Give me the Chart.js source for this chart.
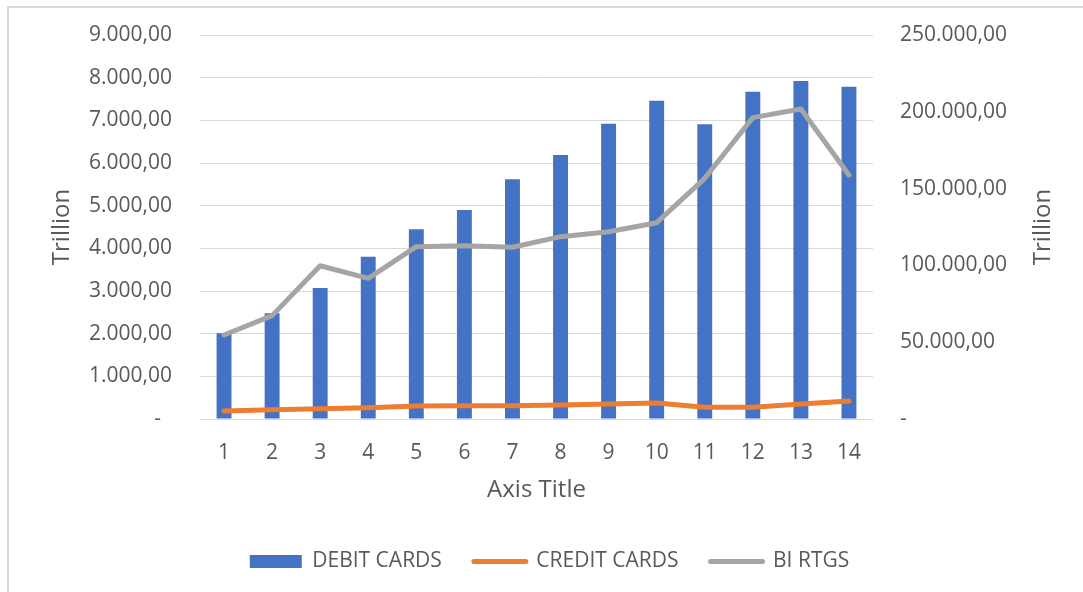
<!DOCTYPE html>
<html>
<head>
<meta charset="utf-8">
<script src="https://cdn.jsdelivr.net/npm/chart.js@4"></script>
<style>
  html, body { margin: 0; padding: 0; background: #fff; }
  #wrap { position: relative; width: 1083px; height: 592px; overflow: hidden; }
  #frame { position: absolute; left: 7px; top: 6px; right: -10px; bottom: -10px;
           border-left: 2px solid #d9d9d9; border-top: 2px solid #d9d9d9; }
  #c { position: absolute; left: 0; top: 0; }
</style>
</head>
<body>
<div id="wrap">
  <div id="frame"></div>
  <canvas id="c" width="1083" height="592"></canvas>
</div>
<script>
const categories = ['1', '2', '3', '4', '5', '6', '7', '8', '9', '10', '11', '12', '13', '14'];
const debitCards = [2010, 2480, 3070, 3800, 4450, 4900, 5620, 6190, 6920, 7460, 6910, 7670, 7920, 7790];
const creditCards = [187, 218, 241, 265, 305, 312, 312, 328, 352, 375, 274, 274, 352, 422];
const biRtgs = [54700, 67300, 99800, 91600, 112200, 112800, 111800, 118700, 121900, 127800, 156700, 196200, 201800, 158900];

const FONT = 'Open Sans';
const TXT = '#595959';

function fmt(v) {
  const s = Math.round(v).toString().replace(/\B(?=(\d{3})+(?!\d))/g, '.');
  return s + ',00';
}

// right axis title reads bottom-to-top like the left one
const rightTitle = {
  id: 'rightTitle',
  afterDraw(chart) {
    const ctx = chart.ctx;
    const area = chart.chartArea;
    ctx.save();
    ctx.translate(1043, (area.top + area.bottom) / 2);
    ctx.rotate(-Math.PI / 2);
    ctx.font = '24px "' + FONT + '"';
    ctx.fillStyle = TXT;
    ctx.textAlign = 'center';
    ctx.textBaseline = 'middle';
    ctx.fillText('Trillion', 0, 0);
    ctx.restore();
  }
};

const legendHeight = {
  id: 'legendHeight',
  beforeInit(chart) {
    const orig = chart.legend.fit;
    chart.legend.fit = function () {
      orig.call(this);
      this.height = 73;
    };
  }
};

// tick padding would otherwise push the plot top down
function fitVertical(width) {
  return function (scale) {
    scale.width = width;
    scale.paddingTop = 0;
    scale.paddingBottom = 0;
  };
}

new Chart(document.getElementById('c'), {
  type: 'bar',
  data: {
    labels: categories,
    datasets: [
      {
        label: 'DEBIT CARDS',
        data: debitCards,
        backgroundColor: '#4472C4',
        barPercentage: 0.31,
        categoryPercentage: 1,
        yAxisID: 'y',
        order: 3
      },
      {
        type: 'line',
        label: 'CREDIT CARDS',
        data: creditCards,
        borderColor: '#ED7D31',
        backgroundColor: '#ED7D31',
        borderWidth: 5,
        pointRadius: 0,
        borderJoinStyle: 'round',
        borderCapStyle: 'round',
        yAxisID: 'y',
        order: 2
      },
      {
        type: 'line',
        label: 'BI RTGS',
        data: biRtgs,
        borderColor: '#A5A5A5',
        backgroundColor: '#A5A5A5',
        borderWidth: 5,
        pointRadius: 0,
        borderJoinStyle: 'round',
        borderCapStyle: 'round',
        yAxisID: 'y1',
        order: 1
      }
    ]
  },
  options: {
    responsive: false,
    animation: false,
    layout: { padding: { left: 16, top: 35, right: 0, bottom: 0 } },
    plugins: {
      tooltip: { enabled: false },
      legend: {
        position: 'bottom',
        labels: {
          usePointStyle: true,
          pointStyleWidth: 52,
          boxHeight: 13,
          padding: 32,
          color: TXT,
          font: { family: FONT, size: 21 },
          generateLabels(chart) {
            return chart.data.datasets.map((ds, i) => ({
              text: ds.label,
              fillStyle: ds.backgroundColor,
              strokeStyle: ds.type === 'line' ? ds.borderColor : ds.backgroundColor,
              lineWidth: ds.type === 'line' ? 5 : 0,
              lineCap: 'round',
              pointStyle: ds.type === 'line' ? 'line' : 'rect',
              fontColor: TXT,
              hidden: false,
              datasetIndex: i
            }));
          }
        }
      }
    },
    scales: {
      x: {
        grid: { display: false },
        border: { display: false },
        ticks: { color: TXT, font: { family: FONT, size: 21 }, padding: 13, maxRotation: 0 },
        title: {
          display: true,
          text: 'Axis Title',
          color: TXT,
          font: { family: FONT, size: 24 },
          padding: { top: 0, bottom: 14 }
        },
        afterFit(scale) { scale.height = 100; }
      },
      y: {
        position: 'left',
        min: 0,
        max: 9000,
        ticks: {
          stepSize: 1000,
          padding: 28,
          color: TXT,
          font: { family: FONT, size: 21 },
          callback: v => v === 0 ? '-  ' : fmt(v)
        },
        grid: { color: '#d9d9d9', lineWidth: 1, drawTicks: false },
        border: { display: false },
        title: {
          display: true,
          text: 'Trillion',
          color: TXT,
          font: { family: FONT, size: 24 },
          padding: { top: 32, bottom: 0 }
        },
        afterFit: fitVertical(184)
      },
      y1: {
        position: 'right',
        min: 0,
        max: 250000,
        ticks: {
          stepSize: 50000,
          padding: 27,
          color: TXT,
          font: { family: FONT, size: 21 },
          callback: v => v === 0 ? '-' : fmt(v)
        },
        grid: { drawOnChartArea: false, drawTicks: false },
        border: { display: false },
        afterFit: fitVertical(210)
      }
    }
  },
  plugins: [rightTitle, legendHeight]
});
</script>
</body>
</html>
